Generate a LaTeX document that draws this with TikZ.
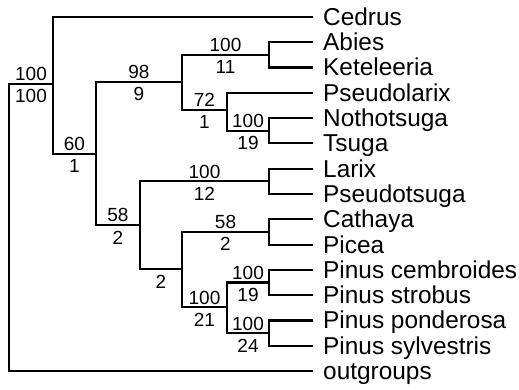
\documentclass[tikz,border=0pt]{standalone}
\usepackage{fontspec}
\setmainfont{Liberation Sans}
\tikzset{
  leaflbl/.style={anchor=base west, inner sep=0pt, font=\fontsize{24.4}{28}\selectfont},
  num/.style={font=\fontsize{19}{22}\selectfont, inner sep=0pt, anchor=base},
  bsup/.style={num, yshift=3pt},
  binf/.style={num, yshift=-19pt},
  branch/.style={line width=2.2pt, line join=miter}
}
\newcommand\myleaf[3]{\coordinate (#1) at (313,#2); \node[leaflbl] (#1L) at ([xshift=10pt,yshift=-8.4pt]#1) {#3};}
\begin{document}
\begin{tikzpicture}[x=1pt,y=-1pt]
\useasboundingbox (0,0) rectangle (519,390);
% leaves
\myleaf{cedrus}{17}{Cedrus}
\myleaf{abies}{42.3}{Abies}
\myleaf{keteleeria}{67.6}{Keteleeria}
\myleaf{pseudolarix}{92.9}{Pseudolarix}
\myleaf{nothotsuga}{118.2}{Nothotsuga}
\myleaf{tsuga}{143.4}{Tsuga}
\myleaf{larix}{168.7}{Larix}
\myleaf{pseudotsuga}{194}{Pseudotsuga}
\myleaf{cathaya}{219.3}{Cathaya}
\myleaf{picea}{244.6}{Picea}
\myleaf{cembroides}{269.9}{Pinus cembroides}
\myleaf{strobus}{295.2}{Pinus strobus}
\myleaf{ponderosa}{320.5}{Pinus ponderosa}
\myleaf{sylvestris}{345.7}{Pinus sylvestris}
\myleaf{outgroups}{371}{outgroups}
% internal nodes
\coordinate (R) at (9,84);
\coordinate (A) at (53,84);
\coordinate (B) at (96,154);
\coordinate (C) at (182,82);
\coordinate (E) at (269,54.9);
\coordinate (F) at (227,110);
\coordinate (G) at (269,130.8);
\coordinate (D) at (140,225);
\coordinate (H) at (269,181.3);
\coordinate (I) at (182,269);
\coordinate (J) at (269,231.9);
\coordinate (K) at (227,307);
\coordinate (L) at (269,282.5);
\coordinate (M) at (269,333.1);
% branches
\draw[branch] (A) -| (R) |- (outgroups);
\draw[branch] (cedrus) -| (A) |- (B);
\draw[branch] (C) -| (B) |- (D);
\draw[branch] (E) -| (C) |- (F);
\draw[branch] (abies) -| (E) |- (keteleeria);
\draw[branch] (pseudolarix) -| (F) |- (G);
\draw[branch] (nothotsuga) -| (G) |- (tsuga);
\draw[branch] (H) -| (D) |- (I);
\draw[branch] (larix) -| (H) |- (pseudotsuga);
\draw[branch] (J) -| (I) |- (K);
\draw[branch] (cathaya) -| (J) |- (picea);
\draw[branch] (L) -| (K) |- (M);
\draw[branch] (cembroides) -| (L) |- (strobus);
\draw[branch] (ponderosa) -| (M) |- (sylvestris);
% support labels
\path (R |- A) -- node[bsup]{100} node[binf]{100} (A);
\path (A |- B) -- node[bsup]{60} node[binf]{1} (B);
\path (B |- C) -- node[bsup]{98} node[binf]{9} (C);
\path (C |- E) -- node[bsup]{100} node[binf]{11} (E);
\path (C |- F) -- node[bsup]{72} node[binf]{1} (F);
\path (F |- G) -- node[bsup]{100} node[binf]{19} (G);
\path (B |- D) -- node[bsup]{58} node[binf]{2} (D);
\path (D |- H) -- node[bsup]{100} node[binf]{12} (H);
\path (D |- I) -- node[binf]{2} (I);
\path (I |- J) -- node[bsup]{58} node[binf]{2} (J);
\path (I |- K) -- node[bsup]{100} node[binf]{21} (K);
\path (K |- L) -- node[bsup]{100} node[binf]{19} (L);
\path (K |- M) -- node[bsup]{100} node[binf]{24} (M);
\end{tikzpicture}
\end{document}
